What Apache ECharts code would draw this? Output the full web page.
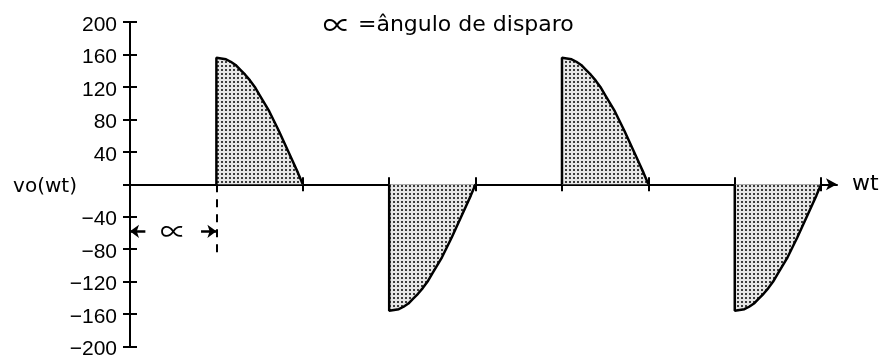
<!DOCTYPE html>
<html>
<head>
<meta charset="utf-8">
<script src="https://cdn.jsdelivr.net/npm/echarts@6/dist/echarts.min.js"></script>
<style>
  html, body { margin: 0; padding: 0; background: #fff; }
  #chart { width: 882px; height: 360px; }
</style>
</head>
<body>
<div id="chart"></div>
<script>
// Phase-controlled output voltage vo(wt), firing angle 90 degrees.
const alphaSymbol = '\u221D';
const titleRest = ' =\u00E2ngulo de disparo';
const xName = 'wt';
const yName = 'vo(wt)';

// axis ranges and ticks (degrees / volts)
const xMax = 736.5;
const xTicks = [90, 180, 270, 360, 450, 540, 630, 720];
const yMin = -200, yMax = 200, yStep = 40;

// conduction lobes: start angle of each lobe, samples every 5 degrees
const sampleStep = 5;
const positiveStarts = [90, 450];
const negativeStarts = [270, 630];
const positiveLobe = [156, 155, 154, 151, 147, 141, 135, 128, 120, 110, 100, 90, 78, 66, 53, 40, 27, 14, 0];
const negativeLobe = [-156, -155, -154, -151, -147, -141, -135, -128, -120, -110, -100, -90, -78, -66, -53, -40, -27, -14, 0];

// firing-angle annotation
const alphaDeg = 90;
const alphaArrowY = -58;
const alphaDashEnd = -87;
const alphaArrowLen = 16;

const textFont = 'DejaVu Sans';
const numFont = 'Liberation Sans';
const symFont = 'Noto Sans CJK JP';

function makeDots() {
  const c = document.createElement('canvas');
  c.width = 4; c.height = 4;
  const g = c.getContext('2d');
  g.fillStyle = '#e6e6e6';
  g.fillRect(0, 0, 4, 4);
  g.fillStyle = '#3c3c3c';
  g.fillRect(1, 1, 2, 2);
  return c;
}
const dotPattern = { image: makeDots(), repeat: 'repeat' };

function lobeData(start, values) {
  const pts = [[start, 0]];
  values.forEach((v, i) => pts.push([start + i * sampleStep, v]));
  return pts;
}

const lobes = [];
positiveStarts.forEach(s => lobes.push(lobeData(s, positiveLobe)));
negativeStarts.forEach(s => lobes.push(lobeData(s, negativeLobe)));

const series = lobes.map(pts => ({
  type: 'line',
  data: pts,
  symbol: 'none',
  smooth: false,
  animation: false,
  silent: true,
  z: 3,
  lineStyle: { color: '#000', width: 2.5 },
  areaStyle: { color: dotPattern, opacity: 1 }
}));

// alpha arrows, dashed firing line and the alpha symbol
series[0].markLine = {
  silent: true,
  animation: false,
  symbol: ['none', 'arrow'],
  symbolSize: [10, 9],
  label: { show: false },
  lineStyle: { color: '#000', width: 2.5, type: 'solid' },
  data: [
    [{ coord: [alphaArrowLen, alphaArrowY] }, { coord: [0, alphaArrowY] }],
    [{ coord: [alphaDeg - alphaArrowLen, alphaArrowY] }, { coord: [alphaDeg, alphaArrowY] }],
    [{ coord: [alphaDeg, 0], symbol: 'none' }, { coord: [alphaDeg, alphaDashEnd], symbol: 'none',
      lineStyle: { type: [8, 7], width: 2, color: '#000' } }]
  ]
};
series[0].markPoint = {
  silent: true,
  animation: false,
  symbol: 'circle',
  symbolSize: 0,
  label: {
    show: true, position: 'inside', formatter: alphaSymbol,
    fontFamily: symFont, fontSize: 26, color: '#000'
  },
  data: [{ coord: [alphaDeg / 2, alphaArrowY] }]
};

const axisLineStyle = { color: '#000', width: 2 };

const option = {
  animation: false,
  backgroundColor: '#fff',
  title: {
    text: '{a|' + alphaSymbol + '}' + titleRest,
    left: 323,
    top: 11,
    padding: 0,
    textStyle: {
      fontFamily: textFont, fontSize: 22, fontWeight: 'normal', color: '#000',
      rich: { a: { fontFamily: symFont, fontSize: 28, color: '#000' } }
    }
  },
  grid: { left: 130, right: 45, top: 22, bottom: 10, containLabel: false },
  xAxis: [
    {
      type: 'value', min: 0, max: xMax, interval: 90,
      name: xName, nameLocation: 'end', nameGap: 15, nameMoveOverlap: false,
      nameTextStyle: { fontFamily: textFont, fontSize: 22, color: '#000', verticalAlign: 'middle' },
      axisLine: { onZero: true, onZeroAxisIndex: 0, symbol: ['none', 'arrow'], symbolSize: [9, 11], lineStyle: axisLineStyle },
      axisTick: { show: true, inside: false, length: 7, customValues: xTicks, lineStyle: axisLineStyle },
      axisLabel: { show: false },
      splitLine: { show: false }
    },
    {
      type: 'value', min: 0, max: xMax, interval: 90, position: 'bottom',
      axisLine: { show: false, onZero: true, onZeroAxisIndex: 0 },
      axisTick: { show: true, inside: true, length: 7, customValues: xTicks, lineStyle: axisLineStyle },
      axisLabel: { show: false },
      splitLine: { show: false }
    }
  ],
  yAxis: [
    {
      type: 'value', min: yMin, max: yMax, interval: yStep, position: 'left',
      name: yName, nameLocation: 'middle', nameRotate: 0, nameGap: 53, nameMoveOverlap: false,
      nameTextStyle: { fontFamily: textFont, fontSize: 20, color: '#000', verticalAlign: 'top', lineHeight: 6 },
      axisLine: { show: true, onZero: false, lineStyle: axisLineStyle },
      axisTick: { show: true, inside: false, length: 7, lineStyle: axisLineStyle },
      axisLabel: {
        margin: 13, fontFamily: numFont, fontSize: 21, color: '#000', verticalAlign: 'top', lineHeight: 6,
        formatter: v => (v === 0 ? '' : String(v).replace('-', '\u2212'))
      },
      splitLine: { show: false }
    },
    {
      type: 'value', min: yMin, max: yMax, interval: yStep, position: 'left',
      axisLine: { show: false, onZero: false },
      axisTick: { show: true, inside: true, length: 7, lineStyle: axisLineStyle },
      axisLabel: { show: false },
      splitLine: { show: false }
    }
  ],
  series: series
};

const chart = echarts.init(document.getElementById('chart'), null, { renderer: 'canvas' });
chart.setOption(option);
</script>
</body>
</html>
